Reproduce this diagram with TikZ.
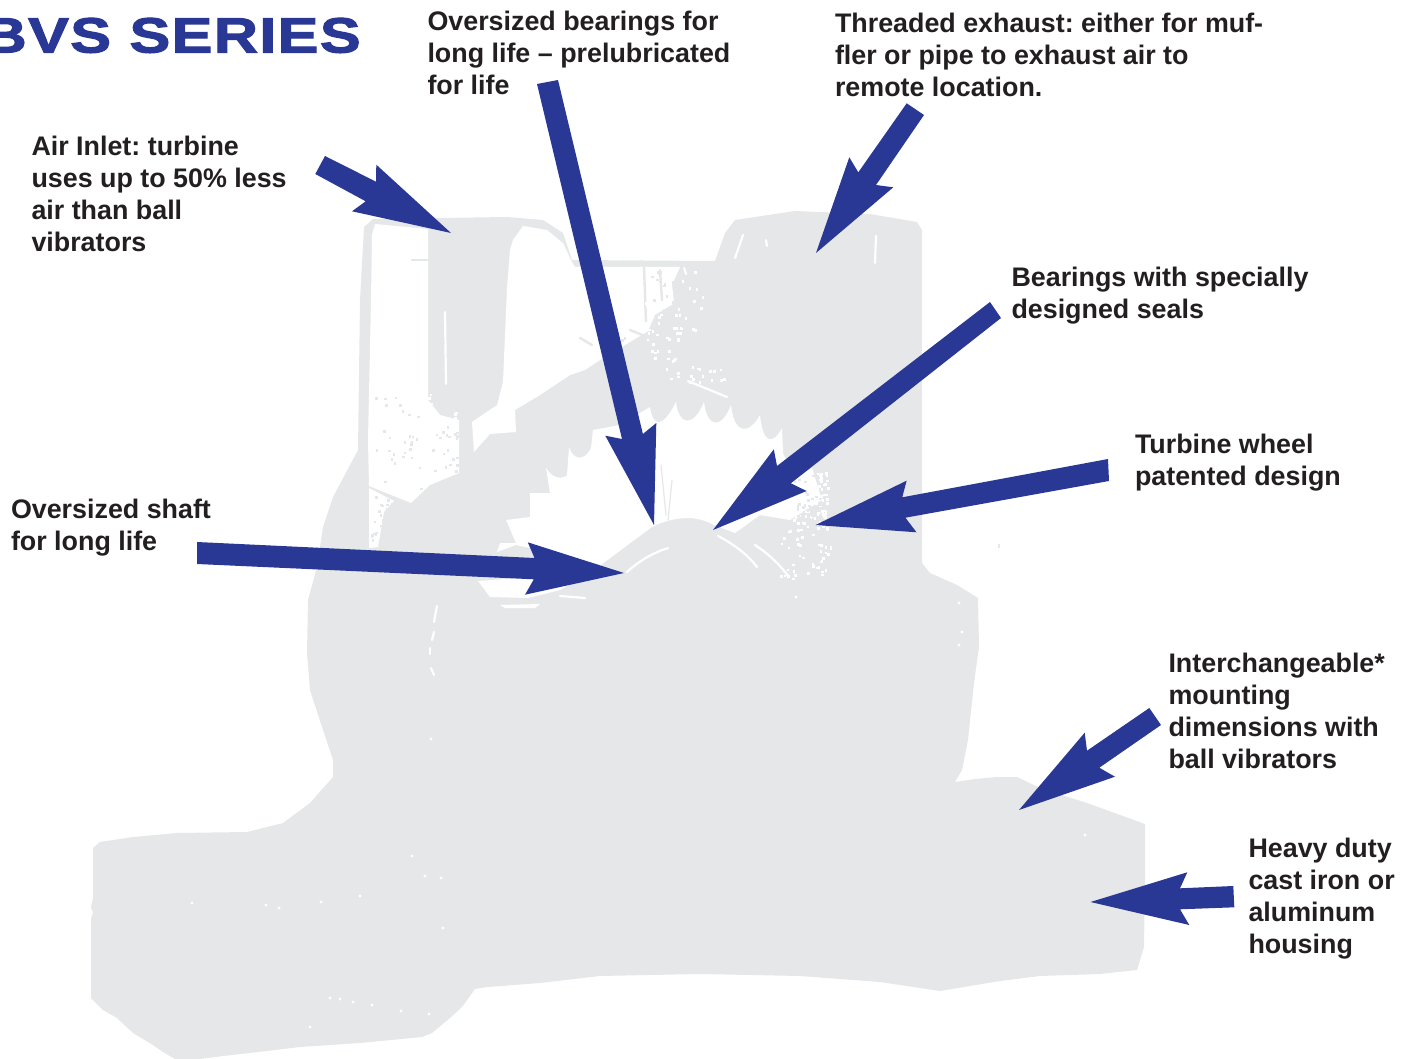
\documentclass[tikz,border=0pt]{standalone}
\usepackage{fontspec}
\setmainfont{Liberation Sans}[BoldFont={Liberation Sans Bold}]
\newfontfamily\titlefont{Liberation Sans Bold}[FakeStretch=1.24,FakeBold=2.2,LetterSpace=2.5]
\definecolor{arrowblue}{HTML}{2A3895}
\definecolor{castgray}{HTML}{E6E7E8}
\definecolor{inktext}{HTML}{231F20}
\newcommand\speckles[6]{% colour,x,y,w,h,count
  \foreach \i in {1,...,#6}{
    \pgfmathsetmacro\rx{#2+rnd*#4}
    \pgfmathsetmacro\ry{#3+rnd*#5}
    \fill[#1] (\rx,\ry) rectangle ++(2.6,2.6);
  }}
\tikzset{
  cast/.style={fill=castgray,draw=none},
  hole/.style={fill=white,draw=none},
  streakw/.style={draw=white,line width=2.2pt,line cap=round},
  streakg/.style={draw=castgray,line width=2.4pt,line cap=round},
  bigarrow/.style={fill=arrowblue,draw=none},
  lab/.style={font=\fontsize{26.85}{32}\selectfont\bfseries\frenchspacing,text=inktext,align=left,inner sep=0pt,outer sep=0pt,anchor=north west},
  titletext/.style={font=\fontsize{49.5}{49.5}\titlefont,text=arrowblue,inner sep=0pt,anchor=base east}
}
\begin{document}
\begin{tikzpicture}[x=1pt,y=-1pt]
\useasboundingbox (0,0) rectangle (1411,1059);
\pgfmathsetseed{4711}
% silhouette
\fill[cast] (364,227) -- (373,219) -- (507,217) -- (543,220) -- (563,233) -- (572,260) -- (715,261) -- (725,233) -- (735,220) -- (795,211) -- (870,214) -- (917,222) -- (922,230) -- (922,563) -- (930,573) -- (957,585) -- (978,598) -- (979,647) -- (974,683) -- (968,740) -- (962,770) -- (955,782) -- (975,779) -- (997,777) -- (1017,777) -- (1040,788) -- (1087,803) -- (1145,824) -- (1145,877) -- (1144,947) -- (1137,970) -- (1100,974) -- (1040,976) -- (1000,981) -- (940,991) -- (880,982) -- (800,976) -- (700,974) -- (600,976) -- (540,983) -- (488,987) -- (475,989) -- (462,1007) -- (450,1018) -- (432,1033) -- (422,1037) -- (360,1043) -- (300,1047) -- (267,1051) -- (223,1056) -- (200,1059) -- (175,1059) -- (163,1052) -- (153,1045) -- (133,1033) -- (117,1018) -- (103,1010) -- (91,998) -- (91,918) -- (93,913) -- (91,907) -- (93,898) -- (93,848) -- (100,842) -- (133,837) -- (177,833) -- (247,832) -- (283,823) -- (310,803) -- (333,777) -- (333,760) -- (323,730) -- (310,690) -- (307,653) -- (308,600) -- (317,567) -- (323,527) -- (333,497) -- (358,450) -- (360,300) -- cycle;
% left chamber
\fill[hole] (375,224) -- (428,229) -- (428,400) -- (440,415) -- (459,420) -- (459,473) -- (430,485) -- (411,503) -- (369,486) -- (368,440) -- (371,300) -- (372,235) -- cycle;
% central channel and upper window
\fill[hole] (513,240) -- (523,226) -- (547,230) -- (563,243) -- (573,264) -- (575,267) -- (680,267) -- (672,285) -- (675,310) -- (650,330) -- (625,345) -- (600,360) -- (585,370) -- (570,375) -- (540,395) -- (515,410) -- (516,432) -- (490,434) -- (474,452) -- (472,422) -- (497,405) -- (503,382) -- (507,288) -- (510,250) -- cycle;
% gear cavity, with rounded tooth lobes hanging between narrow spikes
\fill[hole] (506,520) -- (530,517) -- (530,493) -- (550,493) -- (546,468) .. controls (552,478) and (562,480) .. (567,475) -- (569,447) .. controls (573,460) and (584,462) .. (591,448) -- (593,430) -- (620,425) -- (650,407)
  .. controls (653,428) and (663,428) .. (676,402)
  .. controls (679,427) and (694,427) .. (704,402)
  .. controls (707,429) and (722,429) .. (731,405)
  .. controls (734,435) and (749,435) .. (760,415)
  .. controls (763,445) and (773,445) .. (782,428)
  -- (783,453) -- (790,470) -- (790,520) -- (760,515) -- (735,533) -- (714,525) .. controls (705,520) and (695,518) .. (688,518) .. controls (675,518) and (662,522) .. (652,527) -- (625,547) -- (601,565) -- (575,558) -- (516,545) -- (497,552) -- (500,543) -- (516,543) -- cycle;
\fill[hole] (478,581) -- (490,597) -- (528,598) -- (560,590) -- (601,566) -- (560,575) -- cycle;
\fill[hole] (500,605) -- (540,604) -- (535,608) -- (505,608) -- cycle;
% hub arcs
\draw[streakw] (627,572) .. controls (640,560) and (655,552) .. (668,548);
\draw[streakw] (718,536) .. controls (735,545) and (748,555) .. (757,567);
\draw[streakw] (755,545) .. controls (770,555) and (780,565) .. (789,577);
% thin lines in the cavity
\draw[streakg,line width=1.2pt] (661,465) -- (666,515);
\draw[streakg,line width=1.2pt] (672,480) -- (668,520);
% streaks in upper window
\draw[streakg] (644,267) -- (646,322);
\draw[streakg] (630,330) -- (655,340);
\draw[streakg] (660,270) -- (662,300);
\draw[streakg] (580,338) -- (592,345);
\draw[streakg] (412,260) -- (428,260);
\fill[cast] (655,315) -- (680,300) -- (681,350) -- (640,350) -- cycle;
\speckles{castgray}{620}{335}{50}{40}{40}
\speckles{castgray}{650}{270}{30}{60}{30}
\speckles{white}{645}{300}{35}{60}{45}
% chamber speckles
\speckles{castgray}{372}{380}{50}{110}{28}
\speckles{castgray}{432}{425}{26}{50}{20}
\speckles{white}{428}{405}{30}{20}{12}
\speckles{white}{428}{385}{4}{20}{3}
\draw[streakw] (445,312) -- (446,384);
% white texture lower-left
\fill[hole] (369,488) -- (394,501) -- (384,512) -- (378,547) -- (369,548) -- cycle;
\speckles{castgray}{370}{492}{22}{56}{34}
% right speckled patch
\speckles{white}{790}{470}{38}{60}{90}
\speckles{white}{780}{530}{50}{50}{40}
\fill[hole] (790,482) -- (812,468) -- (822,500) -- (790,520) -- cycle;
\speckles{castgray}{792}{472}{28}{46}{28}
% gray-mass streaks
\draw[streakw] (735,258) -- (743,235);
\draw[streakw] (876,236) -- (875,263);
\draw[streakw] (766,240) -- (767,246);
\draw[streakw] (684,268) -- (686,274);
\draw[streakw] (688,381) -- (727,397);
\speckles{white}{664}{366}{60}{16}{18}
\speckles{white}{680}{270}{30}{60}{10}
% isolated flecks
\draw[streakw] (437,606) -- (434,622);
\draw[streakw] (434,632) -- (432,640);
\draw[streakw] (430,648) -- (430,654);
\draw[streakw] (431,668) -- (434,675);
\draw[streakw] (560,596) -- (585,598);
\foreach \p in {(431,739),(959,603),(962,632),(959,645),(1085,835),(192,903),(266,905),(279,908),(321,902),(360,896),(412,856),(425,876),(441,878),(443,928),(330,998),(340,999),(353,1002),(372,1005),(401,1011),(429,1014),(310,1027),(796,597)}
  \fill[white] \p circle (1.6);
\fill[castgray] (998,544) rectangle (1000,548);
% arrows
\coordinate (tipInlet) at (451,233);
\coordinate (tipBear) at (654,525);
\coordinate (tipExh) at (816,253);
\coordinate (tipSeal) at (713,530);
\coordinate (tipWheel) at (815.5,525);
\coordinate (tipShaft) at (624,573);
\coordinate (tipMount) at (1019,810);
\coordinate (tipHous) at (1090.5,902);
\fill[bigarrow] (325,156) -- (376,181.7) -- (376.3,164.7) -- (tipInlet) -- (352,211.3) -- (365.7,201.3) -- (315.3,174) -- cycle;
\fill[bigarrow] (537,84) -- (558,80) -- (642.9,434) -- (656.3,423) -- (tipBear) -- (605.3,435.7) -- (622,439) -- cycle;
\fill[bigarrow] (906.7,103.3) -- (924,115) -- (876,185) -- (893.3,187.3) -- (tipExh) -- (849.3,157.3) -- (858.3,172.3) -- cycle;
\fill[bigarrow] (990,302) -- (1001,318) -- (790.8,483.3) -- (806.6,491) -- (tipSeal) -- (773.8,449.3) -- (777,466) -- cycle;
\fill[bigarrow] (1108,459) -- (1109,481) -- (905.4,517.7) -- (916.5,532.3) -- (tipWheel) -- (906.6,480.7) -- (902.3,497.3) -- cycle;
\fill[bigarrow] (197,542) -- (534.5,558) -- (527.8,542.3) -- (tipShaft) -- (525,594.7) -- (533.8,579.3) -- (197,564) -- cycle;
\fill[bigarrow] (1149.3,708) -- (1161,725) -- (1099.3,767.7) -- (1115,776.7) -- (tipMount) -- (1084.7,732.7) -- (1087,750.7) -- cycle;
\fill[bigarrow] (1233.3,886) -- (1234.3,907.3) -- (1180,909.3) -- (1189.3,925) -- (tipHous) -- (1187.3,872.3) -- (1180,888.3) -- cycle;
% text
\node[titletext] (title) at (361,52.5) {BVS SERIES};
\node[lab] (tInlet) at (31.5,133.6) {\strut Air Inlet: turbine\\uses up to 50\% less\\air than ball\\vibrators};
\node[lab] (tBear) at (427.5,8.6) {\strut Oversized bearings for\\long life – prelubricated\\for life};
\node[lab] (tExh) at (835,10.6) {\strut Threaded exhaust: either for muf-\\fler or pipe to exhaust air to\\remote location.};
\node[lab] (tSeal) at (1011.5,264) {\strut Bearings with specially\\designed seals};
\node[lab] (tWheel) at (1135,431) {\strut Turbine wheel\\patented design};
\node[lab] (tShaft) at (11,496) {\strut Oversized shaft\\for long life};
\node[lab] (tMount) at (1168.5,650) {\strut Interchangeable*\\mounting\\dimensions with\\ball vibrators};
\node[lab] (tHous) at (1248.5,835) {\strut Heavy duty\\cast iron or\\aluminum\\housing};
\end{tikzpicture}
\end{document}
